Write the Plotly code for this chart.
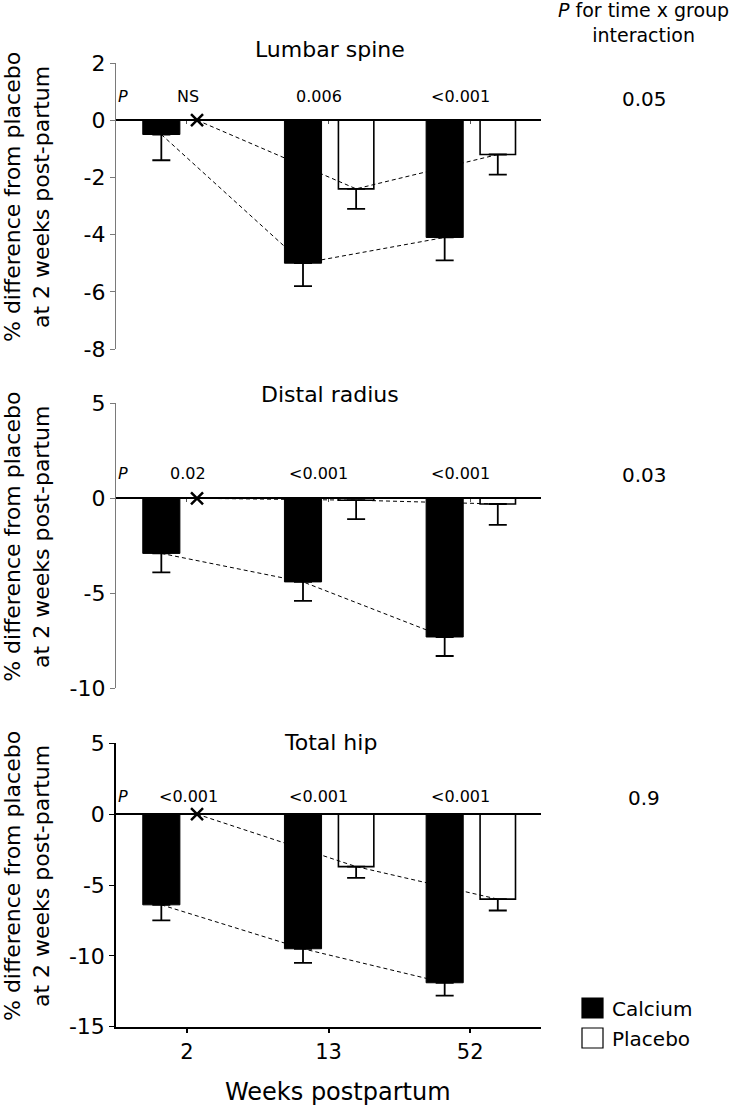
import plotly.graph_objects as go

# ---------------- data ----------------
weeks = ["2", "13", "52"]
panels = ["Lumbar spine", "Distal radius", "Total hip"]

calcium_lumbar = [-0.5, -5.0, -4.1]
calcium_lumbar_se = [0.9, 0.8, 0.8]
placebo_lumbar = [0.0, -2.4, -1.2]
placebo_lumbar_se = [0.0, 0.7, 0.7]
p_lumbar = ["NS", "0.006", "<0.001"]
p_inter_lumbar = "0.05"

calcium_radius = [-2.9, -4.4, -7.3]
calcium_radius_se = [1.0, 1.0, 1.0]
placebo_radius = [0.0, -0.1, -0.3]
placebo_radius_se = [0.0, 1.0, 1.1]
p_radius = ["0.02", "<0.001", "<0.001"]
p_inter_radius = "0.03"

calcium_hip = [-6.4, -9.5, -11.9]
calcium_hip_se = [1.1, 1.0, 0.9]
placebo_hip = [0.0, -3.7, -6.0]
placebo_hip_se = [0.0, 0.8, 0.8]
p_hip = ["<0.001", "<0.001", "<0.001"]
p_inter_hip = "0.9"

y_ranges = [[-8, 2], [-10, 5], [-15, 5]]
yticks_lumbar = [2, 0, -2, -4, -6, -8]
yticks_radius = [5, 0, -5, -10]
yticks_hip = [5, 0, -5, -10, -15]

# ---------------- layout constants ----------------
W, H = 738, 1109
FONT = "DejaVu Sans"
X0PX, X1PX = 116, 541
# pixel positions of the top and bottom of each y axis
ypix = [(63, 349), (403.3, 688.3), (743.3, 1026.7)]
CAL_OFF, PLA_OFF, REF_OFF = -0.18, 0.195, 0.072
CAL_W, PLA_W = 0.262, 0.25


def px_x(p):
    return p / W


def px_y(p):
    return 1 - p / H


cal_sets = [(calcium_lumbar, calcium_lumbar_se), (calcium_radius, calcium_radius_se), (calcium_hip, calcium_hip_se)]
pla_sets = [(placebo_lumbar, placebo_lumbar_se), (placebo_radius, placebo_radius_se), (placebo_hip, placebo_hip_se)]
p_sets = [p_lumbar, p_radius, p_hip]
p_inter = [p_inter_lumbar, p_inter_radius, p_inter_hip]
ytick_sets = [yticks_lumbar, yticks_radius, yticks_hip]

fig = go.Figure()
annotations = []
shapes = []
layout = {}
cats = list(range(len(weeks)))

for i in range(3):
    sfx = "" if i == 0 else str(i + 1)
    xa, ya = "x" + sfx, "y" + sfx
    cal, cal_se = cal_sets[i]
    pla, pla_se = pla_sets[i]

    cal_x = [c + CAL_OFF for c in cats]
    pla_x = [REF_OFF] + [c + PLA_OFF for c in cats[1:]]

    # dashed connecting lines
    fig.add_trace(go.Scatter(x=cal_x, y=cal, mode="lines", xaxis=xa, yaxis=ya,
                             line=dict(color="black", width=1, dash="4px,3px"),
                             showlegend=False, hoverinfo="skip"))
    fig.add_trace(go.Scatter(x=pla_x, y=pla, mode="lines", xaxis=xa, yaxis=ya,
                             line=dict(color="black", width=1, dash="4px,3px"),
                             showlegend=False, hoverinfo="skip"))
    # calcium bars
    fig.add_trace(go.Bar(x=cal_x, y=cal, width=CAL_W, xaxis=xa, yaxis=ya,
                         marker=dict(color="black", line=dict(color="black", width=1)),
                         error_y=dict(type="data", symmetric=False, array=[0] * 3,
                                      arrayminus=cal_se, color="black", thickness=1.8, width=9),
                         name="Calcium", showlegend=False))
    # placebo bars (weeks 13 and 52)
    fig.add_trace(go.Bar(x=pla_x[1:], y=pla[1:], width=PLA_W, xaxis=xa, yaxis=ya,
                         marker=dict(color="white", line=dict(color="black", width=1.6)),
                         error_y=dict(type="data", symmetric=False, array=[0] * 2,
                                      arrayminus=pla_se[1:], color="black", thickness=1.8, width=9),
                         name="Placebo", showlegend=False))
    # reference marker (placebo at 2 weeks)
    fig.add_trace(go.Scatter(x=[pla_x[0]], y=[pla[0]], mode="markers", xaxis=xa, yaxis=ya,
                             marker=dict(symbol="x-thin", size=12, line=dict(color="black", width=2.5)),
                             showlegend=False, hoverinfo="skip"))

    top_px, bot_px = ypix[i]
    dom = [px_y(bot_px), px_y(top_px)]
    r0, r1 = y_ranges[i]
    zero_pos = dom[0] + (0 - r0) / (r1 - r0) * (dom[1] - dom[0])
    axis_col = "#7a7a7a" if i < 2 else "black"

    layout["yaxis" + sfx] = dict(
        domain=dom, range=y_ranges[i], tickvals=ytick_sets[i],
        ticktext=[str(v) for v in ytick_sets[i]], automargin=False,
        anchor=xa, showline=True, linecolor=axis_col, linewidth=1.2 if i < 2 else 1.5,
        ticks="outside", ticklen=5, tickcolor=axis_col, tickwidth=1.2,
        tickfont=dict(family=FONT, size=22, color="black"),
        showgrid=False, zeroline=(i == 2), zerolinecolor="black", zerolinewidth=2,
    )
    if i < 2:
        layout["xaxis" + sfx] = dict(
            domain=[px_x(X0PX), px_x(X1PX)], range=[-0.5, 2.5], anchor="free", position=zero_pos,
            showline=True, linecolor="black", linewidth=2, ticks="outside", ticklen=3,
            tickcolor="#555", tickwidth=1, tickvals=cats, showticklabels=False,
            showgrid=False, zeroline=False, automargin=False,
        )
    else:
        layout["xaxis" + sfx] = dict(
            domain=[px_x(X0PX), px_x(X1PX)], range=[-0.5, 2.5], anchor=ya,
            showline=True, linecolor="black", linewidth=1.5, ticks="outside", ticklen=5,
            tickcolor="black", tickwidth=1.5, tickvals=cats, ticktext=weeks,
            tickfont=dict(family=FONT, size=21, color="black"),
            showgrid=False, zeroline=False, automargin=False,
        )

    # panel title
    title_y = [50, 394, 742][i]
    annotations.append(dict(text=panels[i], x=px_x(330), y=px_y(title_y), xref="paper", yref="paper",
                            xanchor="center", yanchor="middle", showarrow=False,
                            font=dict(family=FONT, size=22, color="black")))
    # y axis title
    annotations.append(dict(text="% difference from placebo<br>at 2 weeks post-partum",
                            x=px_x(27), y=px_y((top_px + bot_px) / 2 - 9), xref="paper", yref="paper",
                            xanchor="center", yanchor="middle", textangle=-90, showarrow=False,
                            font=dict(family=FONT, size=22, color="black")))
    # P labels
    prow = [97, 473, 797][i]
    annotations.append(dict(text="<i>P</i>", x=-0.45, y=px_y(prow), xref=xa, yref="paper",
                            xanchor="center", yanchor="middle", showarrow=False,
                            font=dict(family=FONT, size=16, color="black")))
    p_dx = [0.01, -0.07, -0.07]
    for c, txt in zip(cats, p_sets[i]):
        annotations.append(dict(text=txt, x=c + p_dx[c], y=px_y(prow), xref=xa, yref="paper",
                                xanchor="center", yanchor="middle", showarrow=False,
                                font=dict(family=FONT, size=16, color="black")))
    # interaction p
    annotations.append(dict(text=p_inter[i], x=px_x(644), y=px_y([99, 475, 798][i]),
                            xref="paper", yref="paper", xanchor="center", yanchor="middle",
                            showarrow=False, font=dict(family=FONT, size=20, color="black")))

# header of right column
annotations.append(dict(text="<i>P</i> for time x group<br>interaction", x=px_x(643), y=px_y(23),
                        xref="paper", yref="paper", xanchor="center", yanchor="middle",
                        showarrow=False, font=dict(family=FONT, size=19, color="black")))
# x axis title
annotations.append(dict(text="Weeks postpartum", x=px_x(338), y=px_y(1092), xref="paper", yref="paper",
                        xanchor="center", yanchor="middle", showarrow=False,
                        font=dict(family=FONT, size=24, color="black")))

# legend (drawn manually)
legend_items = [("Calcium", "black", 998), ("Placebo", "white", 1028)]
for label, col, top in legend_items:
    shapes.append(dict(type="rect", xref="paper", yref="paper",
                       x0=px_x(582), x1=px_x(603), y0=px_y(top + 20), y1=px_y(top),
                       fillcolor=col, line=dict(color="black", width=1.2)))
    annotations.append(dict(text=label, x=px_x(610), y=px_y(top + 11), xref="paper", yref="paper",
                            xanchor="left", yanchor="middle", showarrow=False,
                            font=dict(family=FONT, size=20, color="black")))

fig.update_layout(
    template="none",
    width=W, height=H, margin=dict(l=0, r=0, t=0, b=0, autoexpand=False),
    paper_bgcolor="white", plot_bgcolor="white",
    barmode="overlay", showlegend=False,
    annotations=annotations, shapes=shapes,
    font=dict(family=FONT, color="black"),
    **layout,
)

fig.write_html("out.html", config={"displayModeBar": False},
               post_script="document.body.style.margin='0';document.body.style.padding='0';")
